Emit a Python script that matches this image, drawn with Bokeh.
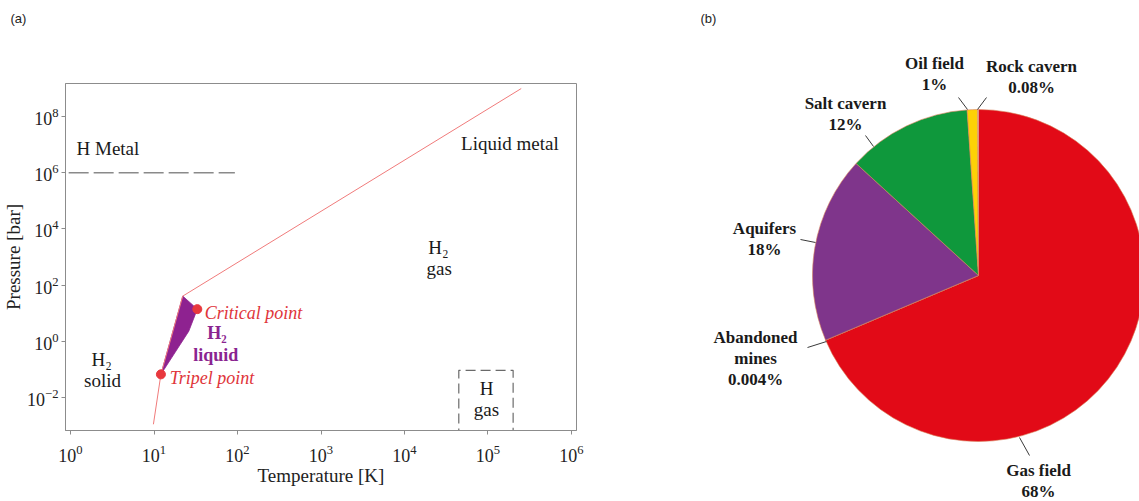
import numpy as np
from bokeh.plotting import figure
from bokeh.layouts import row, column
from bokeh.models import Range1d, FixedTicker, LogTickFormatter
from bokeh.core.properties import value
from bokeh.embed import file_html
from bokeh.resources import INLINE

SERIF = "Liberation Serif"
SANS = "Liberation Sans"

# ---------------- (a) phase diagram of hydrogen ----------------
# phase boundary: sublimation/melting line continued as the liquid-metal line
boundary_T = [9.84, 12.1, 22.1, 2.5e5]          # K
boundary_P = [1.1e-3, 0.066, 40.5, 1.0e9]       # bar
# liquid H2 region: triple point -> top of melting line -> critical point
# -> back down the vapour-pressure curve
liquid_T = [12.1, 22.1, 33.0, 26.1]
liquid_P = [0.066, 40.5, 13.9, 2.28]
# marked points
point_names = ["Tripel point", "Critical point"]
point_T = [12.1, 33.0]
point_P = [0.066, 13.9]
# metallic hydrogen threshold
metal_T = [0.95, 93.0]
metal_P = [1.0e6, 1.0e6]
# atomic hydrogen gas domain
hgas_T = [4.47e4, 2.0e5]
hgas_P = [1.0e-4, 0.092]

x_ticks = [1e0, 1e1, 1e2, 1e3, 1e4, 1e5, 1e6]
y_ticks = [1e-2, 1e0, 1e2, 1e4, 1e6, 1e8]

HEAD = 30          # strip holding the panel tag
W1, H = 690, 501


def panel_tag(text, width):
    """Small blank strip with a panel tag such as (a)."""
    f = figure(width=width, height=HEAD, x_range=Range1d(0, width), y_range=Range1d(0, HEAD),
               output_backend="svg", toolbar_location=None, min_border=0)
    f.frame_align = False
    f.axis.visible = False
    f.grid.visible = False
    f.outline_line_color = None
    f.text(x=[10], y=[HEAD - 18], text=[text], text_font=value(SANS),
           text_font_size="13px", text_color="#222222",
           text_align="left", text_baseline="middle")
    return f


p = figure(width=W1, height=H - HEAD, x_axis_type="log", y_axis_type="log",
           x_range=Range1d(10 ** -0.06, 10 ** 6.06),
           y_range=Range1d(10 ** -3.18, 10 ** 9.18),
           output_backend="svg", toolbar_location=None,
           min_border_left=65, min_border_right=114,
           min_border_top=83 - HEAD, min_border_bottom=71)
p.frame_align = False
p.grid.visible = False
p.outline_line_color = "#8c8c8c"
p.background_fill_color = "white"

for ax, ticks in ((p.xaxis, x_ticks), (p.yaxis, y_ticks)):
    ax.ticker = FixedTicker(ticks=ticks, minor_ticks=[])
    ax.formatter = LogTickFormatter()
    ax.axis_line_color = "#8c8c8c"
    ax.major_tick_line_color = "#8c8c8c"
    ax.major_tick_out = 4
    ax.major_tick_in = 0
    ax.minor_tick_out = 0
    ax.minor_tick_in = 0
    ax.major_label_text_font = SERIF
    ax.major_label_text_font_size = "18px"
    ax.major_label_text_color = "#222222"
    ax.axis_label_text_font = SERIF
    ax.axis_label_text_font_size = "19px"
    ax.axis_label_text_font_style = "normal"
    ax.axis_label_text_color = "#222222"

p.xaxis.axis_label = "Temperature [K]"
p.yaxis.axis_label = "Pressure [bar]"
p.xaxis.major_label_standoff = 10
p.xaxis.axis_label_standoff = 0
p.yaxis.major_label_standoff = 3
p.yaxis.axis_label_standoff = 0

# liquid region
p.patch(liquid_T, liquid_P, fill_color="#8e2290", line_color="#8e2290", line_width=0.8)
# boundary line
p.line(boundary_T, boundary_P, line_color="#f07b7b", line_width=1)
# H metal threshold
p.line(metal_T, metal_P, line_color="#8a8a8a", line_width=1.6, line_dash="20 5")
# H gas box
p.multi_line([[hgas_T[0], hgas_T[0], hgas_T[1], hgas_T[1]]],
             [[hgas_P[0], hgas_P[1], hgas_P[1], hgas_P[0]]],
             line_color="#6a6a6a", line_width=1.2, line_dash="10 5")
# triple and critical points
p.scatter(point_T, point_P, size=9, fill_color="#e8383d", line_color="#e8383d")

region_style = dict(text_font=value(SERIF), text_font_size="19px",
                    text_color="#1a1a1a", text_baseline="middle")
# (text, T, P, align)
region_labels = [
    ("H Metal", 1.18, 7.2e6, "left"),
    ("Liquid metal", 1.83e5, 1.09e7, "center"),
    ("H\u2082", 2.55e4, 2.1e3, "center"),
    ("gas", 2.6e4, 405, "center"),
    ("H\u2082", 2.36, 0.228, "center"),
    ("solid", 2.42, 0.040, "center"),
    ("H", 9.6e4, 0.021, "center"),
    ("gas", 9.6e4, 3.7e-3, "center"),
]
for txt, t, pr, al in region_labels:
    p.text(x=[t], y=[pr], text=[txt], text_align=al, **region_style)

# point annotations
point_label_T = [15.4, 40.6]
point_label_P = [0.048, 10.0]
p.text(x=point_label_T, y=point_label_P, text=point_names,
       text_font=value(SERIF), text_font_size="18px", text_font_style="italic",
       text_color="#e0353a", text_baseline="middle", text_align="left")

# liquid label
p.text(x=[56.6, 55.0], y=[1.93, 0.316], text=["H\u2082", "liquid"],
       text_font=value(SERIF), text_font_size="18px", text_font_style="bold",
       text_color="#8a2490", text_baseline="middle", text_align="center")

left = column(panel_tag("(a)", W1), p)

# ---------------- (b) storage shares ----------------
storage_names = ["Gas field", "Abandoned mines", "Aquifers",
                 "Salt cavern", "Oil field", "Rock cavern"]
storage_share = [68, 0.004, 18, 12, 1, 0.08]   # %
storage_colors = ["#e20a17", "#9a9a9a", "#7f358b", "#0f983c", "#fdd106", "#fbfbfb"]

W2 = 1139 - W1
q = figure(width=W2, height=H, x_range=Range1d(W1, W1 + W2), y_range=Range1d(0, H),
           output_backend="svg", toolbar_location=None, min_border=0)
q.frame_align = False
q.axis.visible = False
q.grid.visible = False
q.outline_line_color = None

cx, cy, rad = 978, H - 275, 166
shares = np.array(storage_share, dtype=float)
frac = shares / shares.sum() * 2 * np.pi
cum = np.concatenate([[0.0], np.cumsum(frac)])
# slices run clockwise from twelve o'clock
start = np.pi / 2 - cum[1:]
end = np.pi / 2 - cum[:-1]
q.wedge(x=[cx] * len(shares), y=[cy] * len(shares), radius=rad,
        start_angle=start, end_angle=end, fill_color=storage_colors,
        line_color="#d8825a", line_width=0.6)

# label layout: first-line centre and leader line (screen px, y down)
label_layout = {
    "Gas field": ((1038, 470), ((1019, 437), (1029, 455))),
    "Abandoned mines": ((755, 337), ((807, 347), (826, 341))),
    "Aquifers": ((764, 228), ((800, 239), (815, 242))),
    "Salt cavern": ((845, 103), ((865, 135), (873, 146))),
    "Oil field": ((934, 63), ((958, 97), (967, 109))),
    "Rock cavern": ((1031, 66), ((986, 97), (977, 109))),
}
line_breaks = {"Abandoned mines": ["Abandoned", "mines"]}
for name, share in zip(storage_names, storage_share):
    (lx, ly), ((ax0, ay0), (ax1, ay1)) = label_layout[name]
    lines = line_breaks.get(name, [name]) + [f"{share:g}%"]
    ys = [H - (ly + 21 * i) for i in range(len(lines))]
    q.text(x=[lx] * len(lines), y=ys, text=lines,
           text_font=value(SERIF), text_font_size="17px", text_font_style="bold",
           text_color="#1a1a1a", text_align="center", text_baseline="middle")
    q.line([ax0, ax1], [H - ay0, H - ay1], line_color="#3a3a3a", line_width=1)

q.text(x=[700], y=[H - 18], text=["(b)"], text_font=value(SANS),
       text_font_size="13px", text_color="#222222",
       text_align="left", text_baseline="middle")

layout = row(left, q)
open("out.html", "w").write(file_html(layout, INLINE))
